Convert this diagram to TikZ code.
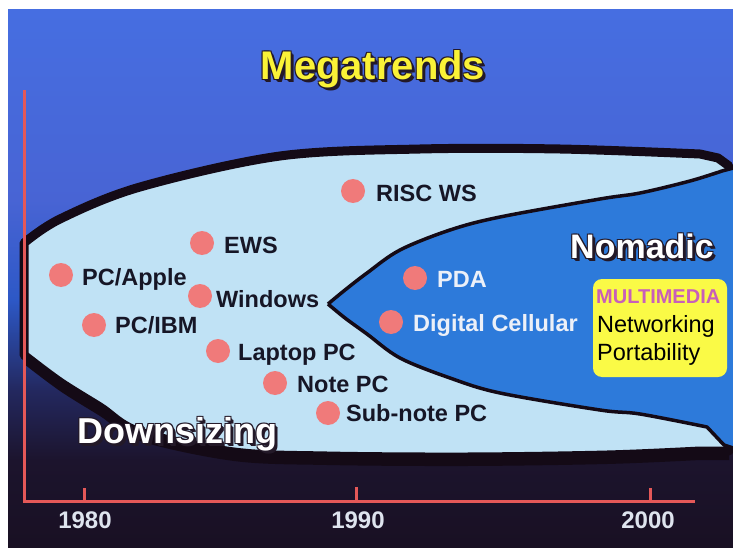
\documentclass[tikz,border=0pt]{standalone}
\usepackage{fontspec}
\setmainfont{Liberation Sans}
\definecolor{bgA}{RGB}{70,110,225}
\definecolor{bgB}{RGB}{72,100,212}
\definecolor{bgC}{RGB}{45,88,198}
\definecolor{bgD}{RGB}{35,40,95}
\definecolor{bgE}{RGB}{28,20,45}
\definecolor{bgF}{RGB}{25,16,35}
\definecolor{lightfill}{RGB}{192,226,245}
\definecolor{wedgeblue}{RGB}{45,122,218}
\definecolor{edgeblack}{RGB}{20,10,22}
\definecolor{dotpink}{RGB}{240,122,122}
\definecolor{labdark}{RGB}{22,22,38}
\definecolor{labwhite}{RGB}{236,240,248}
\definecolor{yrcol}{RGB}{222,228,238}
\definecolor{axisred}{RGB}{228,88,88}
\definecolor{megay}{RGB}{250,242,55}
\definecolor{shd}{RGB}{35,25,40}
\definecolor{boxyellow}{RGB}{250,250,70}
\definecolor{multi}{RGB}{200,95,185}
\tikzset{
  dot/.style={circle, fill=dotpink, minimum size=24pt, inner sep=0pt},
  lab/.style={anchor=base west, inner sep=0pt, font=\fontsize{23.5}{27}\selectfont\bfseries, text=labdark},
  labw/.style={lab, text=labwhite},
  yr/.style={anchor=base, inner sep=0pt, font=\fontsize{24}{28}\selectfont\bfseries, text=yrcol},
  axisline/.style={draw=axisred, line width=3pt},
  ybox/.style={fill=boxyellow, rounded corners=9pt, minimum width=134pt, minimum height=98pt, inner sep=0pt},
  boxtxt/.style={anchor=base west, inner sep=0pt, font=\fontsize{23.5}{28}\selectfont, text=black},
  megafont/.style={inner sep=0pt, anchor=base, font=\fontsize{40}{46}\selectfont\bfseries},
  nomfont/.style={inner sep=0pt, anchor=base, font=\fontsize{34}{40}\selectfont\bfseries},
  downfont/.style={inner sep=0pt, anchor=base west, font=\fontsize{36}{42}\selectfont\bfseries},
}
\begin{document}
\begin{tikzpicture}[x=1pt,y=-1pt]
\useasboundingbox (0,0) rectangle (733,548);
\fill[white] (0,0) rectangle (733,548);
\begin{scope}
\clip (8,10) rectangle (733,548);
% background gradient
\shade[top color=bgA, bottom color=bgB] (8,10) rectangle (733,200.5);
\shade[top color=bgB, bottom color=bgC] (8,200) rectangle (733,300.5);
\shade[top color=bgC, bottom color=bgD] (8,300) rectangle (733,390.5);
\shade[top color=bgD, bottom color=bgE] (8,390) rectangle (733,460.5);
\shade[top color=bgE, bottom color=bgF] (8,460) rectangle (733,548);
% shadow of envelope
\begin{scope}[yshift=-9pt]
\fill[edgeblack] plot[smooth,tension=0.55] coordinates {(24,243) (60,219) (140,187) (280,156) (420,149) (560,149) (700,154)} -- (718,158) -- (729,166) -- (729,451) -- plot[smooth,tension=0.55] coordinates {(700,451) (607,455) (467,457) (327,456) (234,452) (140,432) (100,407) (60,382) (24,355)} -- cycle;
\end{scope}
% envelope
\path[fill=lightfill, draw=edgeblack, line width=9pt, line join=round] plot[smooth,tension=0.55] coordinates {(24,243) (60,219) (140,187) (280,156) (420,149) (560,149) (700,154)} -- (718,158) -- (729,166) -- (729,451) -- plot[smooth,tension=0.55] coordinates {(700,451) (607,455) (467,457) (327,456) (234,452) (140,432) (100,407) (60,382) (24,355)} -- cycle;
% inner wedge
\fill[wedgeblue] plot[smooth,tension=0.55] coordinates {(328,304) (345,290) (367,273) (400,250) (450,230) (500,217) (600,199) (640,193) (690,181) (722,171)} -- (745,165) -- (745,452) -- (724,445) -- plot[smooth,tension=0.55] coordinates {(707,427) (640,414) (600,410) (500,393) (450,378) (400,358) (367,334) (345,318) (328,304)} -- cycle;
\draw[edgeblack, line width=3.5pt, line join=round] plot[smooth,tension=0.55] coordinates {(328,304) (345,290) (367,273) (400,250) (450,230) (500,217) (600,199) (640,193) (690,181) (722,171)} -- (745,165);
\draw[edgeblack, line width=3.5pt, line join=round] plot[smooth,tension=0.55] coordinates {(328,304) (345,318) (367,334) (400,358) (450,378) (500,393) (600,410) (640,414) (707,427)} -- (724,445) -- (745,452);
\end{scope}
% axis
\coordinate (ytop) at (24,90);
\coordinate (origin) at (24,501);
\coordinate (xend) at (695,501);
\draw[axisline] (ytop) -- (origin) -- (xend);
\coordinate (t80) at (84,501); \coordinate (t80u) at (84,488);
\coordinate (t90) at (356,501); \coordinate (t90u) at (356,487);
\coordinate (t00) at (650,501); \coordinate (t00u) at (650,488);
\draw[axisline] (t80) -- (t80u);
\draw[axisline] (t90) -- (t90u);
\draw[axisline] (t00) -- (t00u);
\node[yr] (y80) at (85,528) {1980};
\node[yr] (y90) at (358,528) {1990};
\node[yr] (y00) at (648,528) {2000};
% dots and labels
\node[dot] (d-risc) at (353,191) {}; \node[lab] (l-risc) at (376,201) {RISC WS};
\node[dot] (d-ews) at (202,243) {}; \node[lab] (l-ews) at (224,253) {EWS};
\node[dot] (d-apple) at (61,275) {}; \node[lab] (l-apple) at (82,285) {PC/Apple};
\node[dot] (d-win) at (200,296) {}; \node[lab] (l-win) at (216,307) {Windows};
\node[dot] (d-ibm) at (94,325) {}; \node[lab] (l-ibm) at (115,333) {PC/IBM};
\node[dot] (d-lap) at (218,351) {}; \node[lab] (l-lap) at (238,360) {Laptop PC};
\node[dot] (d-note) at (275,383) {}; \node[lab] (l-note) at (297,392) {Note PC};
\node[dot] (d-sub) at (328,413) {}; \node[lab] (l-sub) at (346,421) {Sub-note PC};
\node[dot] (d-pda) at (415,278) {}; \node[labw] (l-pda) at (437,287) {PDA};
\node[dot] (d-dc) at (391,322) {}; \node[labw] (l-dc) at (413,331) {Digital Cellular};
% titles: dark outline and shadow copies, then the text
\foreach \dx/\dy [count=\i] in {-1/-1,1/-1,-1/1,1/1,2/2,3/3} {
  \node[megafont, text=shd] (ts\i) at (373+\dx,80+\dy) {Megatrends};
  \node[nomfont, text=shd] (ns\i) at (642+\dx,258+\dy) {Nomadic};
  \node[downfont, text=shd] (ds\i) at (77+\dx,443+\dy) {Downsizing};
}
\node[megafont, text=megay] (title) at (373,80) {Megatrends};
\node[nomfont, text=white] (nomadic) at (642,258) {Nomadic};
\node[downfont, text=white] (downsizing) at (77,443) {Downsizing};
% yellow box
\node[ybox] (box) at (660,328) {};
\node[anchor=base west, inner sep=0pt, font=\fontsize{20}{24}\selectfont\bfseries, text=multi] (mm) at (596,303) {MULTIMEDIA};
\node[boxtxt] (net) at (597,332) {Networking};
\node[boxtxt] (port) at (597,360) {Portability};
\end{tikzpicture}
\end{document}
